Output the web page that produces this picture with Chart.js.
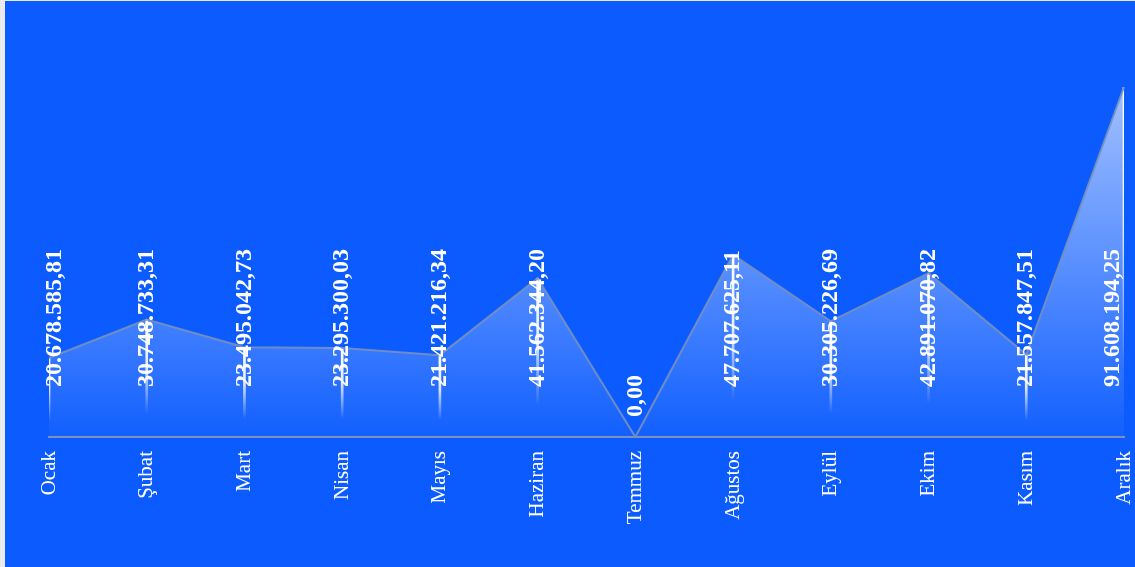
<!DOCTYPE html>
<html>
<head>
<meta charset="utf-8">
<script src="https://cdn.jsdelivr.net/npm/chart.js@4.4.1/dist/chart.umd.min.js"></script>
<style>
  html, body { margin: 0; padding: 0; background: #e9ebef; }
  #wrap { position: absolute; left: 5px; top: 1px; width: 1130px; height: 566px; background: #0b5bff; }
</style>
</head>
<body>
<div id="wrap"><canvas id="sales-chart"></canvas></div>
<script>
const months = ['Ocak', 'Şubat', 'Mart', 'Nisan', 'Mayıs', 'Haziran', 'Temmuz', 'Ağustos', 'Eylül', 'Ekim', 'Kasım', 'Aralık'];
const totals = [20678585.81, 30748733.31, 23495042.73, 23295300.03, 21421216.34, 41562344.20, 0, 47707625.11, 30305226.69, 42891070.82, 21557847.51, 91608194.25];

// 20678585.81 -> "20.678.585,81"
function formatTR(v) {
    const parts = v.toFixed(2).split('.');
    const intPart = parts[0].replace(/\B(?=(\d{3})+(?!\d))/g, '.');
    return intPart + ',' + parts[1];
}

// rotated value labels over the line points
const valueLabels = {
    id: 'valueLabels',
    afterDatasetsDraw(chart) {
        const meta = chart.getDatasetMeta(1);
        const area = chart.chartArea;
        const ctx = chart.ctx;
        ctx.save();
        ctx.font = 'bold 24px "Liberation Serif", "Times New Roman", serif';
        ctx.fillStyle = '#ffffff';
        ctx.textAlign = 'left';
        ctx.textBaseline = 'middle';
        meta.data.forEach((pt, i) => {
            const x = Math.min(Math.max(pt.x, area.left + 6), area.right - 11);
            const y = Math.max(area.bottom - 50, Math.min(pt.y - 20, area.bottom - 19));
            ctx.save();
            ctx.translate(x, y);
            ctx.rotate(-Math.PI / 2);
            ctx.fillText(formatTR(totals[i]), 0, 0);
            ctx.restore();
        });
        ctx.restore();
    }
};

const ctx = document.getElementById('sales-chart').getContext('2d');

new Chart(ctx, {
    data: {
        labels: months,
        datasets: [{
            type: 'bar',
            data: totals,
            barThickness: 2,
            backgroundColor: (c) => {
                const chart = c.chart;
                if (!chart.chartArea || c.parsed === undefined) return 'rgba(255,255,255,0)';
                const yScale = chart.scales.y;
                const top = yScale.getPixelForValue(c.parsed.y);
                const base = yScale.getPixelForValue(0);
                if (base - top < 1) return 'rgba(255,255,255,0)';
                const g = chart.ctx.createLinearGradient(0, top, 0, base);
                g.addColorStop(0, 'rgba(255,255,255,1)');
                g.addColorStop(0.4, 'rgba(255,255,255,0.85)');
                g.addColorStop(0.8, 'rgba(255,255,255,0)');
                return g;
            },
            order: 2
        }, {
            type: 'line',
            data: totals,
            borderColor: 'rgba(120,145,190,0.9)',
            borderWidth: 2,
            pointRadius: 0,
            tension: 0,
            fill: 'origin',
            backgroundColor: (c) => {
                const chart = c.chart;
                const area = chart.chartArea;
                if (!area) return 'rgba(255,255,255,0.3)';
                const g = chart.ctx.createLinearGradient(0, area.top, 0, area.bottom);
                g.addColorStop(0, 'rgba(255,255,255,0.62)');
                g.addColorStop(1, 'rgba(255,255,255,0.03)');
                return g;
            },
            order: 1
        }]
    },
    options: {
        responsive: true,
        maintainAspectRatio: false,
        animation: false,
        layout: { padding: { left: 44, top: 86, right: 11, bottom: 0 } },
        plugins: {
            legend: { display: false },
            tooltip: { enabled: false }
        },
        scales: {
            x: {
                offset: false,
                grid: { display: false },
                border: { display: true, color: 'rgba(130,150,190,0.9)', width: 2 },
                ticks: {
                    color: '#ffffff',
                    minRotation: 90,
                    maxRotation: 90,
                    padding: 6,
                    font: { family: '"Liberation Serif", "Times New Roman", serif', size: 21 }
                },
                afterFit: (scale) => {
                    scale.height = 130;
                    scale.paddingLeft = 0;
                    scale.paddingRight = 0;
                }
            },
            y: {
                min: 0,
                max: Math.max(...totals),
                grid: { display: false },
                border: { display: false },
                ticks: { display: false },
                afterFit: (scale) => { scale.width = 0; }
            }
        }
    },
    plugins: [valueLabels]
});
</script>
</body>
</html>
